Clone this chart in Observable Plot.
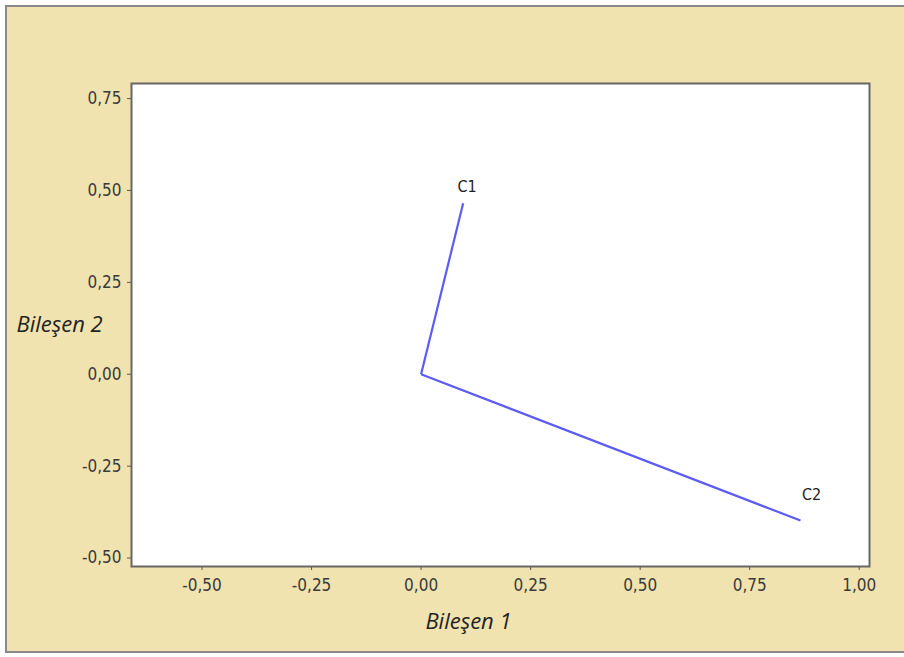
<!DOCTYPE html>
<html>
<head>
<meta charset="utf-8">
<script src="https://cdn.jsdelivr.net/npm/d3@7"></script>
<script src="https://cdn.jsdelivr.net/npm/@observablehq/plot@0.6"></script>
<style>
  html, body { margin: 0; padding: 0; background: #ffffff; overflow: hidden; }
  #wrap { position: relative; width: 904px; height: 657px; overflow: hidden; background: #ffffff; }
  #panel { position: absolute; left: 5px; top: 5px; width: 920px; height: 648px; background: #f0e3b0; border: 2px solid #8a8a8a; border-right: none; box-sizing: border-box; }
  #chart { position: absolute; left: 0; top: 0; }
  #chart svg { background: transparent; }
</style>
</head>
<body>
<div id="wrap"><div id="panel"></div><div id="chart"></div></div>
<script>
const components = ["C1", "C2"];
const comp1 = [0.096, 0.866];
const comp2 = [0.465, -0.398];
const xTicks = [-0.5, -0.25, 0, 0.25, 0.5, 0.75, 1.0];
const yTicks = [-0.5, -0.25, 0, 0.25, 0.5, 0.75];
const xTitle = "Bileşen 1";
const yTitle = "Bileşen 2";

const rows = components.map((c, i) => ({name: c, x: comp1[i], y: comp2[i]}));
const fmt = d => d.toFixed(2).replace(".", ",");
const lineColor = "#5c5cf2";
const tickFont = "'DejaVu Sans Condensed', 'DejaVu Sans', sans-serif";
const titleFont = "'Open Sans', sans-serif";

const chart = Plot.plot({
  width: 904,
  height: 657,
  marginLeft: 131,
  marginRight: 35,
  marginTop: 83,
  marginBottom: 91,
  style: {background: "transparent", fontFamily: tickFont, fontSize: "17px", color: "#333"},
  x: {domain: [-0.661, 1.0235], ticks: xTicks, tickFormat: fmt, label: null},
  y: {domain: [-0.523, 0.791], ticks: yTicks, tickFormat: fmt, label: null},
  marks: [
    Plot.frame({fill: "white"}),
    Plot.axisX({ticks: xTicks, tickFormat: fmt, tickSize: 4, tickPadding: 8, stroke: "#555", fill: "#3a3a3a", fontSize: 17, fontFamily: tickFont, label: null}),
    Plot.axisY({ticks: yTicks, tickFormat: fmt, tickSize: 4, tickPadding: 6, stroke: "#555", fill: "#3a3a3a", fontSize: 17, fontFamily: tickFont, label: null}),
    Plot.link(rows, {x1: 0, y1: 0, x2: "x", y2: "y", stroke: lineColor, strokeWidth: 2.2}),
    Plot.text(rows.filter(d => d.name === "C1"), {x: "x", y: "y", text: "name", dx: 4, dy: -16, fill: "#222", fontSize: 16, fontFamily: tickFont}),
    Plot.text(rows.filter(d => d.name === "C2"), {x: "x", y: "y", text: "name", dx: 11, dy: -26, fill: "#222", fontSize: 16, fontFamily: tickFont}),
    Plot.frame({stroke: "#666", strokeWidth: 2}),
    Plot.text([xTitle], {frameAnchor: "bottom", dx: -32, dy: 62, fontStyle: "italic", fontSize: 22, fill: "#222", fontFamily: titleFont}),
    Plot.text([yTitle], {frameAnchor: "left", dx: -115, dy: 0, textAnchor: "start", fontStyle: "italic", fontSize: 22, fill: "#222", fontFamily: titleFont})
  ]
});
document.getElementById("chart").appendChild(chart);
</script>
</body>
</html>
